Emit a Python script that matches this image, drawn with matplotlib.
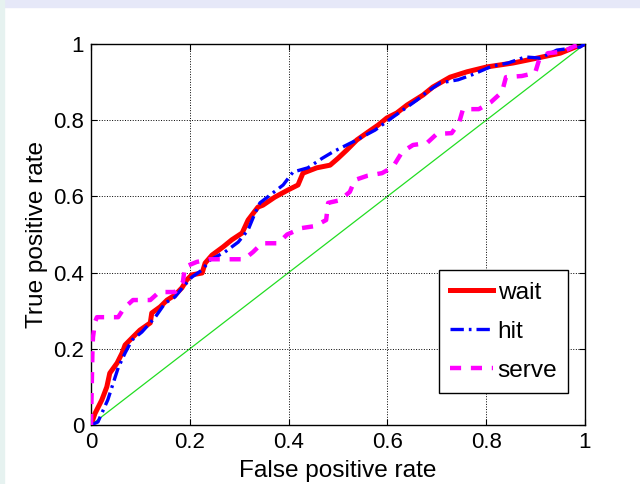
import matplotlib
matplotlib.use("Agg")
import matplotlib.pyplot as plt
from matplotlib.patches import Rectangle

# ROC curves
wait_fpr = [0, 0.008, 0.022, 0.032, 0.038, 0.053, 0.063, 0.069, 0.085, 0.099, 0.12, 0.123, 0.14, 0.154,
            0.17, 0.184, 0.194, 0.204, 0.225, 0.231, 0.245, 0.267, 0.285, 0.306, 0.318, 0.338, 0.348,
            0.372, 0.399, 0.419, 0.429, 0.457, 0.484, 0.5, 0.518, 0.538, 0.561, 0.581, 0.599, 0.619,
            0.64, 0.672, 0.692, 0.727, 0.761, 0.802, 0.854, 0.903, 0.95, 0.99, 1]
wait_tpr = [0, 0.03, 0.066, 0.1, 0.136, 0.163, 0.189, 0.21, 0.231, 0.249, 0.268, 0.294, 0.31, 0.328,
            0.341, 0.36, 0.381, 0.394, 0.399, 0.425, 0.446, 0.467, 0.486, 0.504, 0.538, 0.572, 0.577,
            0.598, 0.617, 0.63, 0.661, 0.675, 0.682, 0.7, 0.722, 0.748, 0.769, 0.787, 0.806, 0.819,
            0.84, 0.866, 0.887, 0.913, 0.927, 0.94, 0.95, 0.963, 0.976, 0.997, 1]

hit_fpr = [0, 0.014, 0.034, 0.045, 0.055, 0.069, 0.083, 0.103, 0.13, 0.15, 0.17, 0.186, 0.204, 0.225,
           0.241, 0.271, 0.298, 0.318, 0.332, 0.342, 0.389, 0.409, 0.439, 0.468, 0.49, 0.53, 0.575,
           0.611, 0.66, 0.68, 0.707, 0.743, 0.771, 0.812, 0.844, 0.879, 0.909, 0.943, 0.99, 1]
hit_tpr = [0, 0.008, 0.066, 0.11, 0.15, 0.189, 0.223, 0.244, 0.283, 0.32, 0.336, 0.362, 0.388, 0.407,
           0.433, 0.454, 0.48, 0.512, 0.556, 0.583, 0.63, 0.664, 0.675, 0.7, 0.717, 0.743, 0.774,
           0.808, 0.853, 0.874, 0.898, 0.906, 0.919, 0.942, 0.95, 0.966, 0.963, 0.984, 0.992, 1]

serve_fpr = [0, 0.003, 0.004, 0.008, 0.012, 0.055, 0.067, 0.085, 0.12, 0.138, 0.17, 0.186, 0.19, 0.214,
             0.24, 0.275, 0.31, 0.328, 0.346, 0.379, 0.397, 0.427, 0.453, 0.476, 0.48, 0.504, 0.524,
             0.534, 0.559, 0.589, 0.611, 0.63, 0.652, 0.68, 0.70, 0.73, 0.745, 0.753, 0.785, 0.81,
             0.832, 0.84, 0.872, 0.899, 0.907, 0.925, 0.955, 0.98, 1]
serve_tpr = [0, 0.2, 0.23, 0.27, 0.283, 0.283, 0.307, 0.328, 0.328, 0.349, 0.349, 0.375, 0.415, 0.428,
             0.435, 0.435, 0.435, 0.454, 0.477, 0.477, 0.5, 0.517, 0.522, 0.538, 0.583, 0.59, 0.612,
             0.643, 0.654, 0.661, 0.677, 0.717, 0.735, 0.74, 0.764, 0.766, 0.793, 0.829, 0.829, 0.848,
             0.874, 0.913, 0.916, 0.924, 0.958, 0.976, 0.98, 0.995, 1]

ticks = [0, 0.2, 0.4, 0.6, 0.8, 1]
tick_labels = ["0", "0.2", "0.4", "0.6", "0.8", "1"]

plt.rcParams['font.family'] = ['Liberation Sans', 'DejaVu Sans']

fig = plt.figure(figsize=(6.4, 4.84), dpi=100)
fig.patch.set_facecolor('white')
# lavender frame strips at top and left
fig.patches.append(Rectangle((0, 1 - 7 / 484), 1, 7 / 484, transform=fig.transFigure,
                             color='#e6e8f8', zorder=0))
fig.patches.append(Rectangle((0, 0), 4 / 640, 1, transform=fig.transFigure,
                             color='#e6f2f0', zorder=0))

ax = fig.add_axes([91 / 640, 59 / 484, 494 / 640, 381 / 484])

ax.plot([0, 1], [0, 1], color='#22dd22', lw=0.9, zorder=1)
ax.plot(wait_fpr, wait_tpr, color='red', lw=3.6, label='wait', zorder=2)
ax.plot(hit_fpr, hit_tpr, color='blue', lw=2.4, ls=(0, (4, 1.5, 0.8, 1.5)), label='hit', zorder=3)
ax.plot(serve_fpr, serve_tpr, color='magenta', lw=3.2, ls=(0, (2.5, 2.2)), label='serve', zorder=4)

ax.set_xlim(0, 1)
ax.set_ylim(0, 1)
ax.set_xticks(ticks)
ax.set_xticklabels(tick_labels)
ax.set_yticks(ticks)
ax.set_yticklabels(tick_labels)
ax.tick_params(direction='in', top=True, right=True, labelsize=16, length=4, width=0.8, pad=5)
ax.grid(True, ls=':', color='black', lw=0.7)
for s in ax.spines.values():
    s.set_linewidth(1.0)

ax.set_xlabel('False positive rate', fontsize=17.6, labelpad=5)
ax.set_ylabel('True positive rate', fontsize=17.6, labelpad=4)

leg = ax.legend(loc='lower right', bbox_to_anchor=(0.966, 0.084), borderaxespad=0, fontsize=17.6,
                fancybox=False, framealpha=1, edgecolor='black', handlelength=1.75, labelspacing=0.7,
                borderpad=0.45, handletextpad=0.2)
leg.get_frame().set_linewidth(1.0)

fig.savefig('out.png', dpi=100, facecolor=fig.get_facecolor())
